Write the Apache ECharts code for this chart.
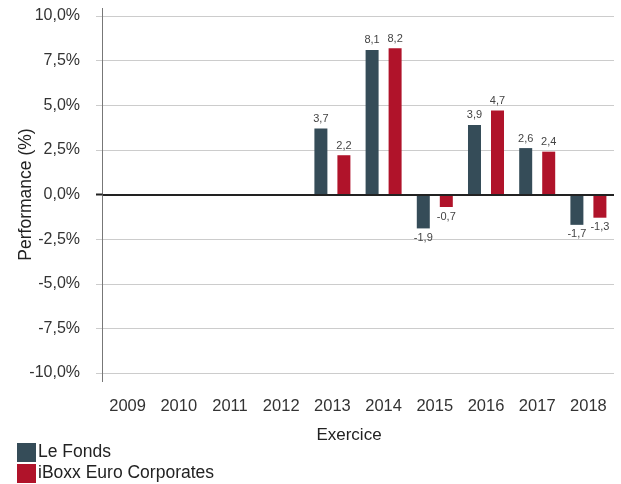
<!DOCTYPE html>
<html>
<head>
<meta charset="utf-8">
<script src="https://cdn.jsdelivr.net/npm/echarts@6/dist/echarts.min.js"></script>
<style>html,body{margin:0;padding:0;background:#fff;}#c{width:621px;height:484px;}</style>
</head>
<body>
<div id="c"></div>
<script>
const categories = ['2009','2010','2011','2012','2013','2014','2015','2016','2017','2018'];
const leFonds = [null, null, null, null, 3.7, 8.1, -1.9, 3.9, 2.6, -1.7];
const iboxx = [null, null, null, null, 2.2, 8.2, -0.7, 4.7, 2.4, -1.3];
const seriesNames = ['Le Fonds', 'iBoxx Euro Corporates'];
const yTicks = { min: -10, max: 10, interval: 2.5 };

const fmt = v => v.toFixed(1).replace('.', ',');
const toItems = arr => arr.map(v => v === null ? null : ({
  value: v,
  label: { position: v < 0 ? 'bottom' : 'top' }
}));

const chart = echarts.init(document.getElementById('c'));
const labelStyle = {
  show: true,
  fontSize: 11,
  color: '#444',
  fontFamily: 'Liberation Sans',
  distance: 4,
  formatter: p => fmt(p.value)
};
chart.setOption({
  animation: false,
  textStyle: { fontFamily: 'Liberation Sans' },
  grid: { left: 102, right: 7, top: 16, bottom: 111, containLabel: false, outerBoundsMode: 'none' },
  legend: {
    orient: 'vertical', left: 17, top: 443, padding: 0,
    itemWidth: 19, itemHeight: 19, itemGap: 2,
    icon: 'rect',
    textStyle: { fontSize: 17.5, color: '#222', fontFamily: 'Liberation Sans', padding: [0,0,0,-3] },
    data: seriesNames
  },
  xAxis: {
    type: 'category',
    data: categories,
    position: 'bottom',
    axisLine: { show: false, onZero: false },
    axisTick: { show: false },
    axisLabel: { fontSize: 16.5, color: '#333', margin: 25, fontFamily: 'Liberation Sans' },
    name: 'Exercice',
    nameLocation: 'middle',
    nameGap: 54,
    nameMoveOverlap: false,
    nameTextStyle: { fontSize: 17, color: '#222', fontFamily: 'Liberation Sans', padding: [0, 18, 0, 0] }
  },
  yAxis: {
    type: 'value',
    min: yTicks.min, max: yTicks.max, interval: yTicks.interval,
    axisLine: { show: false },
    axisTick: { show: true, length: 6, lineStyle: { color: '#ccc' } },
    splitLine: { lineStyle: { color: '#cccccc', width: 1 } },
    axisLabel: { fontSize: 16, color: '#333', margin: 22, formatter: v => fmt(v) + '%', fontFamily: 'Liberation Sans' },
    name: 'Performance (%)',
    nameLocation: 'middle',
    nameGap: 67,
    nameMoveOverlap: false,
    nameTextStyle: { fontSize: 17.5, color: '#222', fontFamily: 'Liberation Sans' }
  },
  series: [
    {
      name: seriesNames[0], type: 'bar', data: toItems(leFonds),
      barWidth: 13, barGap: '77%',
      itemStyle: { color: '#354c58' },
      label: labelStyle,
      markLine: {
        silent: true, symbol: 'none',
        label: { show: false },
        lineStyle: { color: '#222', width: 2, type: 'solid' },
        data: [{ yAxis: 0 }]
      }
    },
    {
      name: seriesNames[1], type: 'bar', data: toItems(iboxx),
      barWidth: 13, barGap: '77%',
      itemStyle: { color: '#b0132a' },
      label: labelStyle
    }
  ]
});
// vertical axis line, extended slightly beyond the plot like the reference
const yTop = chart.convertToPixel({ yAxisIndex: 0 }, yTicks.max);
const yBot = chart.convertToPixel({ yAxisIndex: 0 }, yTicks.min);
const yZero = chart.convertToPixel({ yAxisIndex: 0 }, 0);
const xLeft = chart.convertToPixel({ gridIndex: 0 }, [0, 0])[0] - (chart.convertToPixel({ xAxisIndex: 0 }, 1) - chart.convertToPixel({ xAxisIndex: 0 }, 0)) / 2;
const ax = Math.round(xLeft) + 0.5;
chart.setOption({
  graphic: [{
    type: 'line', silent: true, z: 5,
    shape: { x1: ax, y1: yTop - 8, x2: ax, y2: yBot + 9 },
    style: { stroke: '#777', lineWidth: 1 }
  }, {
    type: 'line', silent: true, z: 5,
    shape: { x1: ax - 6.5, y1: yZero, x2: ax, y2: yZero },
    style: { stroke: '#222', lineWidth: 2 }
  }]
});
</script>
</body>
</html>
